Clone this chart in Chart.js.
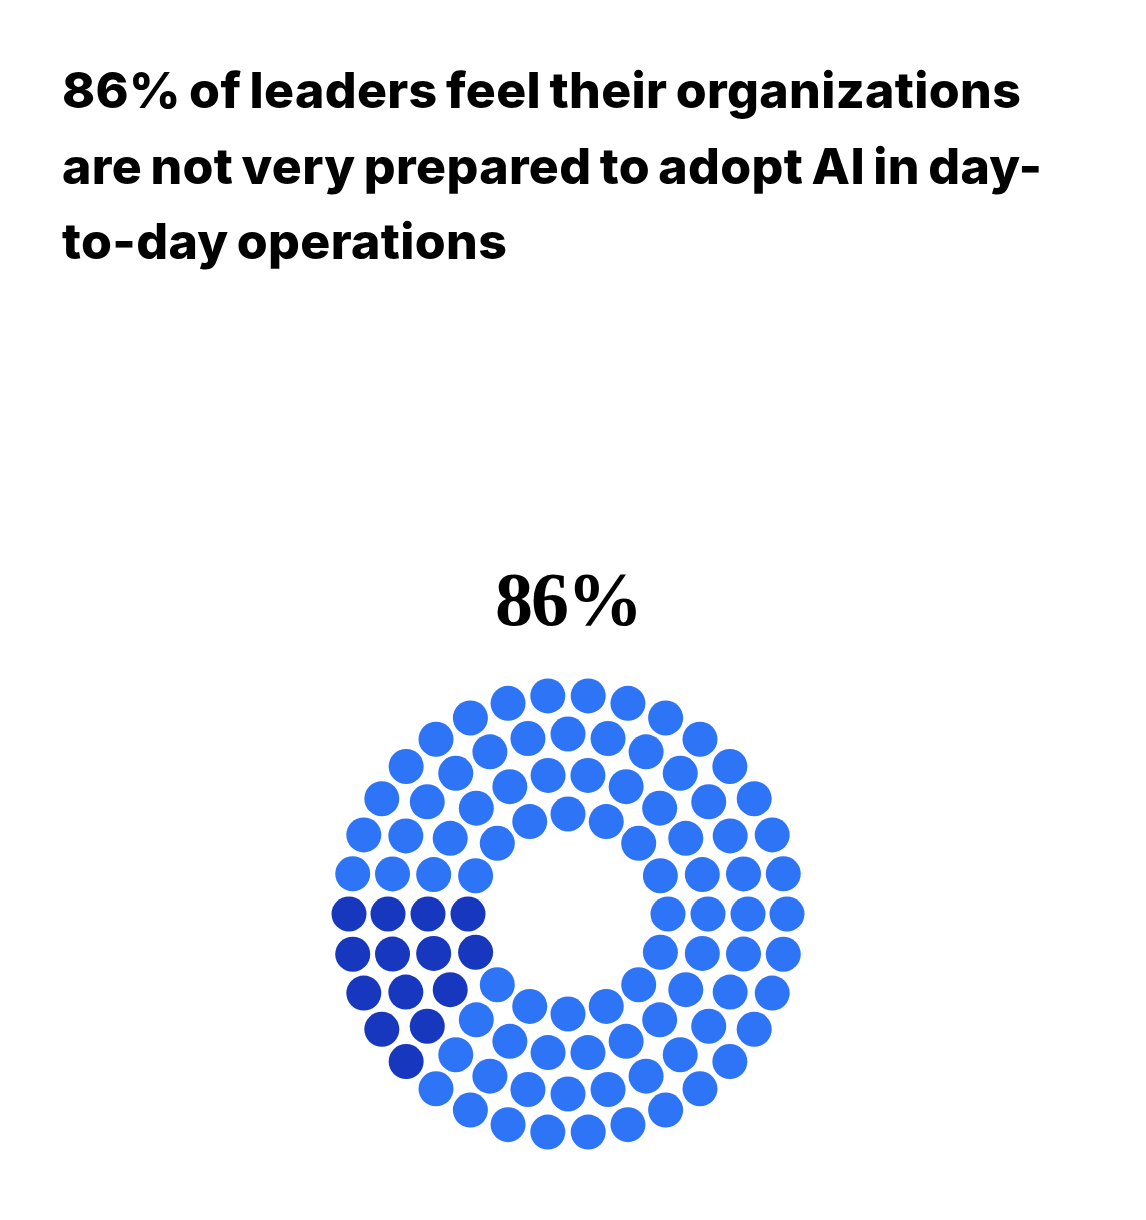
<!DOCTYPE html>
<html lang="en">
<head>
    <meta charset="UTF-8" />
    <title>AI readiness</title>
    <script src="https://cdn.jsdelivr.net/npm/chart.js"></script>
    <style>
        body { margin: 0; background: #fff; width: 1146px; height: 1220px; position: relative; overflow: hidden; }
        h1 {
            position: absolute; left: 62px; top: 53px; margin: 0;
            font-family: Inter, "Noto Sans", sans-serif; font-weight: 800;
            font-size: 50px; line-height: 75.5px; letter-spacing: 0.35px; word-spacing: -3px; color: #000;
        }
        .big {
            position: absolute; left: 368px; width: 400px; top: 561px;
            text-align: center; font-family: "Liberation Serif", serif; font-weight: 700;
            font-size: 76px; line-height: 76px; letter-spacing: -2px; color: #000;
        }
        .chart-box { position: absolute; left: 318px; top: 664px; width: 500px; height: 500px; }
    </style>
</head>
<body>

<h1>86% of leaders feel their organizations<br>are not very prepared to adopt AI in day-<br>to-day operations</h1>
<div class="big" id="big-value"></div>
<div class="chart-box"><canvas id="dots"></canvas></div>

<script>
    // 100 dots, share of leaders not very prepared
    const sharePct = 86;
    const seriesLabels = ['Not very prepared', 'Other'];
    const seriesColors = ['#2d74f7', '#1637be'];

    // rings from outside in: dots per ring and ring radius (px)
    const ringCounts = [34, 28, 22, 16];
    const ringRadius = [219, 180, 140, 100];

    document.getElementById("big-value").textContent = sharePct + "%";

    // each ring starts at 9 o'clock; the first (100 - share)% of every ring goes dark
    const light = [], dark = [];
    ringCounts.forEach((n, i) => {
        const darkCount = Math.round(n * (100 - sharePct) / 100);
        const step = 2 * Math.PI / n;
        for (let k = 0; k < n; k++) {
            const a = Math.PI + k * step;
            const pt = { x: ringRadius[i] * Math.cos(a), y: ringRadius[i] * Math.sin(a) };
            (k < darkCount ? dark : light).push(pt);
        }
    });

    new Chart(document.getElementById("dots"), {
        type: 'scatter',
        data: {
            datasets: [
                { label: seriesLabels[0], data: light, backgroundColor: seriesColors[0], pointRadius: 17.5, pointHoverRadius: 17.5, borderWidth: 0 },
                { label: seriesLabels[1], data: dark, backgroundColor: seriesColors[1], pointRadius: 17.5, pointHoverRadius: 17.5, borderWidth: 0 }
            ]
        },
        options: {
            responsive: true,
            maintainAspectRatio: false,
            animation: false,
            layout: { autoPadding: false, padding: 0 },
            scales: {
                x: { type: 'linear', min: -250, max: 250, display: false },
                y: { type: 'linear', min: -250, max: 250, display: false }
            },
            plugins: {
                legend: { display: false },
                tooltip: { enabled: true }
            }
        }
    });
</script>
</body>
</html>
